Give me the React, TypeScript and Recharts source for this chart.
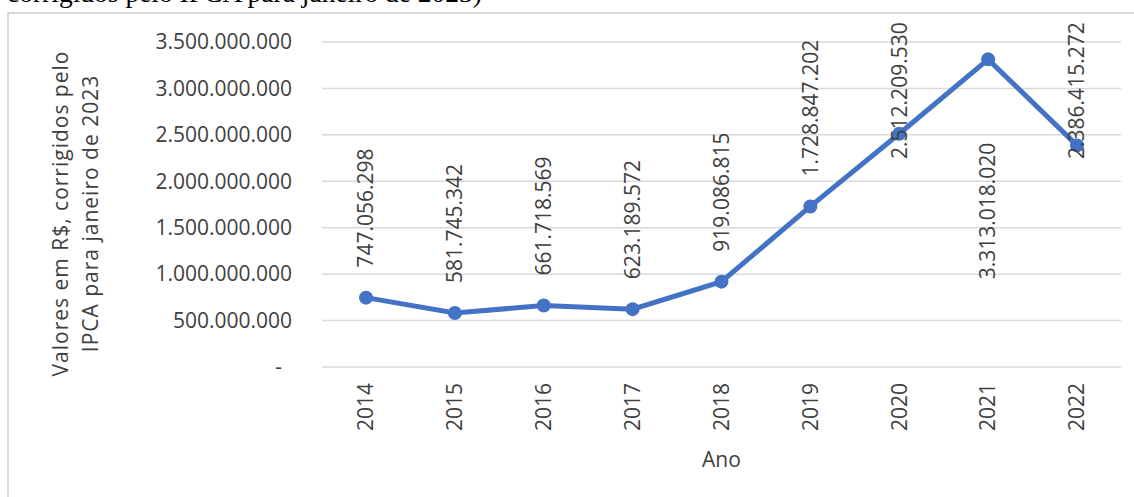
import { LineChart, Line, XAxis, YAxis, CartesianGrid, LabelList } from "recharts";

const YEARS = ["2014", "2015", "2016", "2017", "2018", "2019", "2020", "2021", "2022"];
const VALUES = [
  747056298, 581745342, 661718569, 623189572, 919086815, 1728847202, 2512209530, 3313018020,
  2386415272,
];
const Y_TICKS = [0, 500000000, 1000000000, 1500000000, 2000000000, 2500000000, 3000000000, 3500000000];

const data = YEARS.map((ano, i) => ({ ano, valor: VALUES[i] }));

const FONT = "'Open Sans', sans-serif";
const TEXT = "#404040";
const BLUE = "#4472C4";
const FS = 21;

// pt-BR thousands, zero shown as "-" like Excel accounting format
function fmt(v: number) {
  if (v === 0) return "-";
  return String(v).replace(/\B(?=(\d{3})+(?!\d))/g, ".");
}

// rough Open Sans advance widths, used to keep labels inside the chart
function textLen(s: string) {
  let w = 0;
  for (const c of s) w += c === "." ? 0.267 : 0.572;
  return w * FS;
}

function YTick({ x, y, payload }: any) {
  const label = fmt(payload.value);
  return (
    <text x={label === "-" ? x - 10 : x} y={y} dy="0.35em" textAnchor="end" fill={TEXT} fontSize={FS} fontFamily={FONT}>
      {label}
    </text>
  );
}

function XTick({ x, y, payload }: any) {
  const sy = y + 64;
  return (
    <text
      x={x}
      y={sy}
      dy="0.35em"
      transform={`rotate(-90, ${x}, ${sy})`}
      textAnchor="start"
      fill={TEXT}
      fontSize={FS}
      fontFamily={FONT}
    >
      {payload.value}
    </text>
  );
}

function YTitle({ viewBox }: any) {
  const cy = viewBox.y + viewBox.height / 2 + 9;
  const lines = ["Valores em R$, corrigidos pelo", "IPCA para janeiro de 2023"];
  return (
    <g>
      {lines.map((t, i) => {
        const bx = 68 + i * 30;
        return (
          <text
            key={t}
            x={bx}
            y={cy}
            transform={`rotate(-90, ${bx}, ${cy})`}
            textAnchor="middle"
            fill={TEXT}
            fontSize={FS}
            letterSpacing={1}
            fontFamily={FONT}
          >
            {t}
          </text>
        );
      })}
    </g>
  );
}

const TOP_LIMIT = 22;

function DataLabel({ x, y, value }: any) {
  const text = fmt(value);
  const len = textLen(text);
  let start = y - 30;
  if (start - len < TOP_LIMIT) {
    start = TOP_LIMIT + len;
    if (y < TOP_LIMIT + len / 2) start = y + 83 + len;
  }
  return (
    <text
      x={x}
      y={start}
      dy="0.35em"
      transform={`rotate(-90, ${x}, ${start})`}
      textAnchor="start"
      fill={TEXT}
      fontSize={FS}
      fontFamily={FONT}
    >
      {text}
    </text>
  );
}

export default function App() {
  return (
    <div
      style={{
        position: "absolute",
        left: 0,
        top: 0,
        width: 1134,
        height: 497,
        overflow: "hidden",
        background: "#fff",
      }}
    >
      <div
        style={{
          position: "absolute",
          left: 7,
          top: -21,
          fontFamily: "'Liberation Serif', serif",
          fontSize: 27.5,
          lineHeight: 1,
          whiteSpace: "nowrap",
          color: "#000",
        }}
      >
        corrigidos pelo IPCA para janeiro de 2023)
      </div>
      <div
        style={{
          position: "absolute",
          left: 7,
          top: 12,
          width: 1200,
          height: 600,
          border: "2px solid #d9d9d9",
        }}
      />
      <div style={{ position: "absolute", left: 0, top: 0 }}>
        <LineChart width={1134} height={497} data={data} margin={{ top: 42, right: 13, bottom: 0, left: 0 }}>
          <CartesianGrid vertical={false} stroke="#d9d9d9" strokeWidth={1.5} />
          <XAxis
            dataKey="ano"
            axisLine={false}
            tickLine={false}
            tickSize={0}
            tickMargin={0}
            interval={0}
            height={130}
            padding={{ left: 44, right: 44 }}
            tick={<XTick />}
            label={{ value: "Ano", position: "insideBottom", offset: 30, fill: TEXT, fontSize: FS, fontFamily: FONT }}
          />
          <YAxis
            type="number"
            domain={[0, 3500000000]}
            ticks={Y_TICKS}
            interval={0}
            axisLine={false}
            tickLine={false}
            tickSize={0}
            tickMargin={30}
            width={322}
            tick={<YTick />}
            label={{ content: <YTitle /> }}
          />
          <Line
            dataKey="valor"
            stroke={BLUE}
            strokeWidth={5}
            dot={{ r: 7, fill: BLUE, stroke: BLUE, strokeWidth: 0 }}
            activeDot={false}
            isAnimationActive={false}
          >
            <LabelList dataKey="valor" content={<DataLabel />} />
          </Line>
        </LineChart>
      </div>
    </div>
  );
}
